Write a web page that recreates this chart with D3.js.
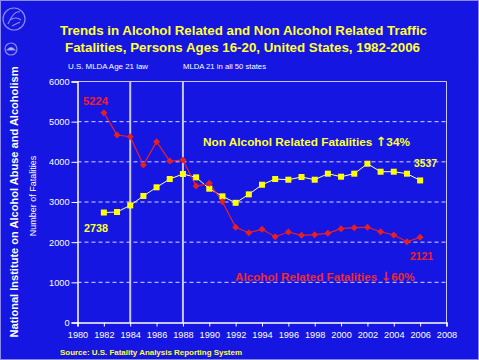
<!DOCTYPE html>
<html><head><meta charset="utf-8">
<script src="https://cdn.jsdelivr.net/npm/d3@7"></script>
<style>body{margin:0;background:#1616e2;}svg{display:block;}</style>
</head><body>
<script>
const years = [1982,1983,1984,1985,1986,1987,1988,1989,1990,1991,1992,1993,1994,1995,1996,1997,1998,1999,2000,2001,2002,2003,2004,2005,2006];
const nonAlcohol = [2738,2751,2915,3150,3366,3572,3697,3614,3331,3141,2980,3190,3430,3572,3555,3622,3555,3705,3630,3705,3953,3754,3754,3705,3537];
const alcohol = [5224,4668,4626,3921,4501,4020,4045,3398,3465,3007,2370,2236,2320,2136,2253,2170,2186,2220,2335,2360,2370,2260,2178,2011,2121];
const yTicks = [0,1000,2000,3000,4000,5000,6000];
const xTicks = [1980,1982,1984,1986,1988,1990,1992,1994,1996,1998,2000,2002,2004,2006,2008];
const lawYears = [1984,1988];

const W=479,H=360;
const svg=d3.select("body").append("svg").attr("width",W).attr("height",H);
svg.append("rect").attr("width",W).attr("height",H).attr("fill","#1616e2");
svg.append("rect").attr("x",0.5).attr("y",0.5).attr("width",W-1).attr("height",H-1)
  .attr("fill","none").attr("stroke","#ffffff").attr("stroke-width",1).attr("stroke-dasharray","1,1");

const x=d3.scaleLinear().domain([1980,2008]).range([77.5,446.5]);
const y=d3.scaleLinear().domain([0,6000]).range([322.5,81.5]);

const logo=svg.append("g").attr("fill","none").attr("stroke","#8a8ae8").attr("stroke-width",1.2);
logo.append("circle").attr("cx",14).attr("cy",19).attr("r",11);
logo.append("path").attr("d","M8,24 Q14,10 20,12 M10,20 Q16,16 21,20 M12,26 L20,22");
logo.append("circle").attr("cx",11).attr("cy",49).attr("r",6);
logo.append("path").attr("d","M7,50 Q11,45 15,50 Z").attr("fill","#c8c8f0");

svg.append("g").selectAll("line").data(yTicks.filter(d=>d>0&&d<6000)).join("line")
  .attr("x1",x(1980)).attr("x2",x(2008)).attr("y1",d=>y(d)).attr("y2",d=>y(d))
  .attr("stroke","#d8d8ff").attr("stroke-width",1).attr("stroke-dasharray","4,3");
svg.append("path").attr("d",`M${x(1980)},${y(6000)}H${x(2008)}V${y(0)}`)
  .attr("fill","none").attr("stroke","#c8c8f0").attr("stroke-width",1);

svg.append("g").selectAll("line").data(lawYears).join("line")
  .attr("x1",d=>x(d)).attr("x2",d=>x(d)).attr("y1",y(6000)).attr("y2",y(0))
  .attr("stroke","#c8c8f6").attr("stroke-width",2);

const yAxis=svg.append("g").attr("transform",`translate(${x(1980)},0)`)
  .call(d3.axisLeft(y).tickValues(yTicks).tickSize(6).tickPadding(2).tickFormat(d3.format("d")));
const xAxis=svg.append("g").attr("transform",`translate(0,${y(0)})`)
  .call(d3.axisBottom(x).tickValues(xTicks).tickSize(4).tickPadding(5).tickFormat(d3.format("d")));
[yAxis,xAxis].forEach(a=>{
  a.select(".domain").attr("stroke","#ffffff").attr("stroke-width",1.5);
  a.selectAll(".tick line").attr("stroke","#ffffff");
  a.selectAll("text").attr("fill","#ffffff").attr("font-family","Arial, Liberation Sans, sans-serif").attr("font-size",9.2);
});

const line=(arr)=>d3.line().x((d,i)=>x(years[i])).y(d=>y(d))(arr);
svg.append("path").attr("d",line(nonAlcohol)).attr("fill","none").attr("stroke","#ffffc8").attr("stroke-width",1);
svg.append("path").attr("d",line(alcohol)).attr("fill","none").attr("stroke","#ee2020").attr("stroke-width",1.2);
svg.append("g").selectAll("rect").data(nonAlcohol).join("rect")
  .attr("x",(d,i)=>x(years[i])-3).attr("y",d=>y(d)-3).attr("width",6).attr("height",6).attr("fill","#ffff00");
svg.append("g").selectAll("path").data(alcohol).join("path")
  .attr("d",(d,i)=>{const cx=x(years[i]),cy=y(d);return `M${cx},${cy-3.5}L${cx+3.5},${cy}L${cx},${cy+3.5}L${cx-3.5},${cy}Z`;})
  .attr("fill","#e42020");

const F="Arial, Liberation Sans, sans-serif";
function txt(t,xx,yy,opt){
  const e=svg.append("text").attr("x",xx).attr("y",yy).text(t).attr("font-family",F)
    .attr("font-size",opt.size||10).attr("fill",opt.fill||"#fff").attr("font-weight",opt.bold?"bold":"normal")
    .attr("text-anchor",opt.anchor||"start");
  if(opt.len) e.attr("textLength",opt.len).attr("lengthAdjust","spacingAndGlyphs");
  if(opt.rot) e.attr("transform",`rotate(-90,${xx},${yy})`);
  return e;
}
function arrowLabel(pre,arrow,post,xx,yy,fill,size){
  const e=svg.append("text").attr("x",xx).attr("y",yy).attr("font-family",F).attr("font-size",size)
    .attr("font-weight","bold").attr("fill",fill);
  e.append("tspan").text(pre);
  e.append("tspan").text(arrow).attr("font-family","DejaVu Sans").attr("font-size",size+1);
  e.append("tspan").text(post);
}
txt("Trends in Alcohol Related and Non Alcohol Related Traffic",60,35,{size:13,bold:true,fill:"#ffff33",len:367});
txt("Fatalities, Persons Ages 16-20, United States, 1982-2006",65,51.5,{size:13,bold:true,fill:"#ffff33",len:355});
txt("U.S. MLDA Age 21 law",68,69,{size:7.5,len:80});
txt("MLDA 21 in all 50 states",183,69,{size:7.5,len:83});
txt(String(alcohol[0]),83,105,{size:10,bold:true,fill:"#ee2222",len:25});
txt(String(nonAlcohol[0]),84,232,{size:10,bold:true,fill:"#ffff33",len:24});
txt(String(nonAlcohol[nonAlcohol.length-1]),414,167,{size:10,bold:true,fill:"#ffff33",len:23});
txt(String(alcohol[alcohol.length-1]),410,260,{size:10,bold:true,fill:"#ee2222",len:23});
arrowLabel("Non Alcohol Related Fatalities ","\u2191","34%",203,146,"#ffff33",11.8);
arrowLabel("Alcohol Related Fatalities ","\u2193","60%",235,281,"#ee2a2a",11.7);
txt("Number of Fatalities",36,196,{size:9,anchor:"middle",rot:true});
txt("National Institute on Alcohol Abuse and Alcoholism",18,202,{size:11.5,bold:true,anchor:"middle",rot:true,len:271});
txt("Source: U.S. Fatality Analysis Reporting System",60,355,{size:8,bold:true,fill:"#ffff33",len:182});
</script>
</body></html>
